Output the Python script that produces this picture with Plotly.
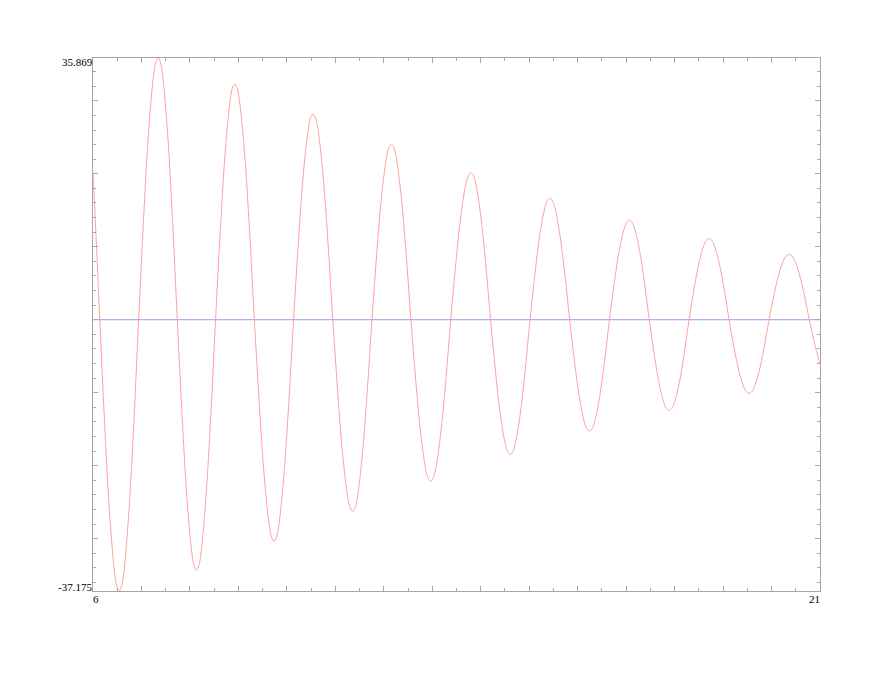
import plotly.graph_objects as go

# damped oscillation, values:
# one row per half-swing (extremum -> zero crossing -> next extremum)
x_vals = [
    6.0, 6.04, 6.14, 6.24, 6.34, 6.44, 6.489, 6.540,
    6.591, 6.6405, 6.741, 6.8415, 6.942, 7.0425, 7.143, 7.2435, 7.293, 7.344,
    7.395, 7.4428, 7.5415, 7.6403, 7.739, 7.8378, 7.9365, 8.0353, 8.083, 8.134,
    8.185, 8.2328, 8.3315, 8.4303, 8.529, 8.6278, 8.7265, 8.8253, 8.873, 8.924,
    8.975, 9.0255, 9.127, 9.2285, 9.330, 9.4315, 9.533, 9.6345, 9.685, 9.736,
    9.787, 9.8365, 9.937, 10.0375, 10.138, 10.2385, 10.339, 10.4395, 10.489, 10.540,
    10.591, 10.6421, 10.7443, 10.8464, 10.9485, 11.0506, 11.1528, 11.2549, 11.306, 11.357,
    11.408, 11.4568, 11.5565, 11.6563, 11.756, 11.8558, 11.9555, 12.0553, 12.104, 12.155,
    12.206, 12.2563, 12.3575, 12.4588, 12.560, 12.6613, 12.7625, 12.8638, 12.914, 12.965,
    13.016, 13.0691, 13.1733, 13.2774, 13.3815, 13.4856, 13.5898, 13.6939, 13.747, 13.798,
    13.849, 13.8993, 14.0005, 14.1018, 14.203, 14.3043, 14.4055, 14.5068, 14.557, 14.608,
    14.659, 14.7104, 14.8128, 14.9151, 15.0175, 15.1199, 15.2223, 15.3246, 15.376, 15.427,
    15.478, 15.529, 15.631, 15.733, 15.835, 15.937, 16.039, 16.141, 16.192, 16.243,
    16.294, 16.3461, 16.4493, 16.5524, 16.6555, 16.7586, 16.8618, 16.9649, 17.017, 17.068,
    17.119, 17.1704, 17.2728, 17.3751, 17.4775, 17.5799, 17.6823, 17.7846, 17.836, 17.887,
    17.938, 17.990, 18.093, 18.196, 18.299, 18.402, 18.505, 18.608, 18.660, 18.711,
    18.762, 18.8141, 18.9173, 19.0204, 19.1235, 19.2266, 19.3298, 19.4329, 19.485, 19.536,
    19.587, 19.6391, 19.7423, 19.8454, 19.9485, 20.0516, 20.1548, 20.2579, 20.310, 20.361,
    20.412, 20.4655, 20.570, 20.6745, 20.779, 20.8835, 21.0,
]
y_vals = [
    19.97, 14.7, 0.0, -14.24, -26.28, -34.35, -36.47, -37.175,
    -36.47, -34.35, -26.28, -14.24, 0.0, 13.74, 25.36, 33.14, 35.19, 35.869,
    35.19, 33.14, 25.36, 13.74, 0.0, -13.14, -24.25, -31.69, -33.65, -34.30,
    -33.65, -31.69, -24.25, -13.14, 0.0, 12.37, 22.84, 29.85, 31.70, 32.31,
    31.70, 29.85, 22.84, 12.37, 0.0, -11.63, -21.46, -28.05, -29.78, -30.36,
    -29.78, -28.05, -21.46, -11.63, 0.0, 10.80, 19.93, 26.05, 27.65, 28.19,
    27.65, 26.05, 19.93, 10.80, 0.0, -10.05, -18.56, -24.26, -25.75, -26.25,
    -25.75, -24.26, -18.56, -10.05, 0.0, 9.21, 17.00, 22.21, 23.58, 24.04,
    23.58, 22.21, 17.00, 9.21, 0.0, -8.48, -15.65, -20.46, -21.72, -22.14,
    -21.72, -20.46, -15.65, -8.48, 0.0, 7.72, 14.25, 18.62, 19.77, 20.15,
    19.77, 18.62, 14.25, 7.72, 0.0, -7.06, -13.04, -17.04, -18.09, -18.44,
    -18.09, -17.04, -13.04, -7.06, 0.0, 6.37, 11.76, 15.38, 16.32, 16.64,
    16.32, 15.38, 11.76, 6.37, 0.0, -5.84, -10.78, -14.09, -14.96, -15.25,
    -14.96, -14.09, -10.78, -5.84, 0.0, 5.22, 9.64, 12.59, 13.37, 13.63,
    13.37, 12.59, 9.64, 5.22, 0.0, -4.75, -8.77, -11.47, -12.17, -12.41,
    -12.17, -11.47, -8.77, -4.75, 0.0, 4.26, 7.85, 10.27, 10.90, 11.11,
    10.90, 10.27, 7.85, 4.26, 0.0, -3.86, -7.13, -9.31, -9.89, -10.08,
    -9.89, -9.31, -7.13, -3.86, 0.0, 3.44, 6.34, 8.29, 8.80, 8.97,
    8.80, 8.29, 6.34, 3.44, 0.0, -3.10, -6.07,
]

base_x = [6, 21]
base_y = [0, 0]

x_min, x_max = 6, 21
y_min, y_max = -37.175, 35.869

axis_grey = "#a6a6a6"
label_font = dict(family="Liberation Serif", size=11, color="black")

fig = go.Figure()
fig.add_trace(go.Scatter(x=base_x, y=base_y, mode="lines",
                         line=dict(color="#9a9aff", width=1), hoverinfo="skip"))
fig.add_trace(go.Scatter(x=x_vals, y=y_vals, mode="lines",
                         line=dict(color="#ffa0a0", width=1, shape="spline", smoothing=1.0)))

fig.update_xaxes(range=[x_min, x_max], showgrid=False, zeroline=False,
                 showline=True, linecolor=axis_grey, linewidth=1, mirror="allticks",
                 ticks="inside", tick0=6, dtick=1, ticklen=5, tickcolor=axis_grey,
                 showticklabels=False,
                 minor=dict(ticks="inside", dtick=0.5, ticklen=3, tickcolor=axis_grey))
fig.update_yaxes(range=[y_min, y_max], showgrid=False, zeroline=False,
                 showline=True, linecolor=axis_grey, linewidth=1, mirror="allticks",
                 ticks="inside", tick0=0, dtick=10, ticklen=5, tickcolor=axis_grey,
                 showticklabels=False,
                 minor=dict(ticks="inside", dtick=2, ticklen=3, tickcolor=axis_grey))

# end labels only, like the original
labels = [
    dict(x=x_min, y=y_max, text="35.869", xanchor="right", yanchor="top", xshift=0, yshift=2),
    dict(x=x_min, y=y_min, text="-37.175", xanchor="right", yanchor="bottom", xshift=-1, yshift=-2),
    dict(x=x_min, y=y_min, text="6", xanchor="left", yanchor="top", xshift=0, yshift=-2),
    dict(x=x_max, y=y_min, text="21", xanchor="right", yanchor="top", xshift=0, yshift=-2),
]
for lab in labels:
    fig.add_annotation(xref="x", yref="y", showarrow=False, font=label_font,
                       borderpad=0, borderwidth=0, **lab)

# page body adds an 8px margin, so the figure is a bit smaller than the window
fig.update_layout(
    width=867, height=666,
    margin=dict(l=85, r=55, t=50, b=83),
    plot_bgcolor="white", paper_bgcolor="white",
    showlegend=False,
)

fig.write_html("out.html")
